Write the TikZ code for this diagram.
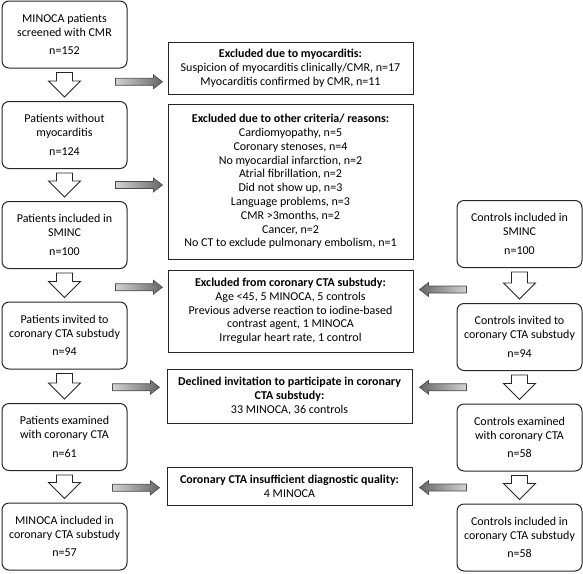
\documentclass[tikz,border=0pt]{standalone}
\usepackage{fontspec}
\setmainfont{Carlito}
\usetikzlibrary{calc}
\newcommand\hollowdown[2]{%
  \draw[hollow] let \p1=($(#1.south)+(0,4)$), \p2=($(#2.north)+(0,-4)$) in
    (\x1-8pt,\y1) -- (\x1+8pt,\y1) -- (\x1+8pt,\y2+16pt) -- (\x1+16pt,\y2+16pt)
    -- (\x1,\y2) -- (\x1-16pt,\y2+16pt) -- (\x1-8pt,\y2+16pt) -- cycle;}
\newcommand\greyright[2]{%
  \draw[greyarrow, left color=gray!35, right color=black!60] let \p1=(#1), \p2=(#2) in
    (\x1,\y1+3.5pt) -- (\x2-9pt,\y1+3.5pt) -- (\x2-9pt,\y1+7pt) -- (\x2,\y1)
    -- (\x2-9pt,\y1-7pt) -- (\x2-9pt,\y1-3.5pt) -- (\x1,\y1-3.5pt) -- cycle;}
\newcommand\greyleft[2]{%
  \draw[greyarrow, right color=gray!35, left color=black!60] let \p1=(#1), \p2=(#2) in
    (\x1,\y1+3.5pt) -- (\x2+9pt,\y1+3.5pt) -- (\x2+9pt,\y1+7pt) -- (\x2,\y1)
    -- (\x2+9pt,\y1-7pt) -- (\x2+9pt,\y1-3.5pt) -- (\x1,\y1-3.5pt) -- cycle;}
\begin{document}
\begin{tikzpicture}[x=1pt,y=-1pt,
  box/.style={draw=black!85, line width=1pt, align=center, inner sep=2pt,
    font=\fontsize{12}{13.8}\selectfont},
  lbox/.style={box, rounded corners=7pt, minimum width=125pt, minimum height=67pt},
  mbox/.style={box, minimum width=245pt},
  hollow/.style={draw=black!85, line width=0.9pt, fill=white},
  greyarrow/.style={draw=black!70, line width=0.6pt},
]
\useasboundingbox (0,0) rectangle (583,573);

% left column
\node[lbox] (L1) at (64.5,34.5) {MINOCA patients\\screened with CMR\\[5pt]n=152};
\node[lbox] (L2) at (64.5,135) {Patients without\\myocarditis\\[5pt]n=124};
\node[lbox] (L3) at (64.5,235) {Patients included in\\SMINC\\[5pt]n=100};
\node[lbox] (L4) at (64.5,335.5) {Patients invited to\\coronary CTA substudy\\[5pt]n=94};
\node[lbox] (L5) at (64.5,437) {Patients examined\\with coronary CTA\\[5pt]n=61};
\node[lbox] (L6) at (64.5,536.5) {MINOCA included in\\coronary CTA substudy\\[5pt]n=57};

% right column
\node[lbox] (R1) at (519.5,234) {Controls included in\\SMINC\\[5pt]n=100};
\node[lbox] (R2) at (519.5,337) {Controls invited to\\coronary CTA substudy\\[5pt]n=94};
\node[lbox] (R3) at (519.5,437.5) {Controls examined\\with coronary CTA\\[5pt]n=58};
\node[lbox] (R4) at (519.5,537.5) {Controls included in\\coronary CTA substudy\\[5pt]n=58};

% middle column
\node[mbox, minimum height=52pt] (M1) at (290.5,68)
  {\textbf{Excluded due to myocarditis:}\\Suspicion of myocarditis clinically/CMR, n=17\\Myocarditis confirmed by CMR, n=11};
\node[mbox, minimum height=155pt] (M2) at (290.5,181.5)
  {\textbf{Excluded due to other criteria/ reasons:}\\Cardiomyopathy, n=5\\Coronary stenoses, n=4\\No myocardial infarction, n=2\\Atrial fibrillation, n=2\\Did not show up, n=3\\Language problems, n=3\\CMR >3months, n=2\\Cancer, n=2\\No CT to exclude pulmonary embolism, n=1};
\node[mbox, minimum height=82pt] (M3) at (290.5,311)
  {\textbf{Excluded from coronary CTA substudy:}\\Age <45, 5 MINOCA, 5 controls\\Previous adverse reaction to iodine-based\\contrast agent, 1 MINOCA\\Irregular heart rate, 1 control};
\node[mbox, minimum height=54pt] (M4) at (289.5,396)
  {\textbf{Declined invitation to participate in coronary}\\\textbf{CTA substudy:}\\33 MINOCA, 36 controls};
\node[mbox, minimum height=38pt] (M5) at (289.5,486)
  {\textbf{Coronary CTA insufficient diagnostic quality:}\\4 MINOCA};

% hollow down arrows
\hollowdown{L1}{L2}
\hollowdown{L2}{L3}
\hollowdown{L3}{L4}
\hollowdown{L4}{L5}
\hollowdown{L5}{L6}
\hollowdown{R1}{R2}
\hollowdown{R2}{R3}
\hollowdown{R3}{R4}

% grey arrows, left to middle
\coordinate (a1s) at ($(L1.south east)!0.5!(L2.north east)+(-12,-3)$);
\coordinate (a1e) at ($(M1.west |- a1s)+(-5,0)$);
\coordinate (a2s) at ($(L2.south east)!0.5!(L3.north east)+(-12,0)$);
\coordinate (a2e) at ($(M2.west |- a2s)+(-5,0)$);
\coordinate (a3s) at ($(L3.south east)!0.5!(L4.north east)+(-12,2)$);
\coordinate (a3e) at ($(M3.west |- a3s)+(-5,0)$);
\coordinate (a4s) at ($(L4.south east)!0.5!(L5.north east)+(-15,1)$);
\coordinate (a4e) at ($(M4.west |- a4s)+(-7,0)$);
\coordinate (a5s) at ($(L5.south east)!0.5!(L6.north east)+(-15,1)$);
\coordinate (a5e) at ($(M5.west |- a5s)+(-7,0)$);
\greyright{a1s}{a1e}
\greyright{a2s}{a2e}
\greyright{a3s}{a3e}
\greyright{a4s}{a4e}
\greyright{a5s}{a5e}

% grey arrows, right to middle
\coordinate (b1s) at ($(R1.south west)!0.5!(R2.north west)+(10,4)$);
\coordinate (b1e) at ($(M3.east |- b1s)+(6,0)$);
\coordinate (b2s) at ($(R2.south west)!0.5!(R3.north west)+(10,0)$);
\coordinate (b2e) at ($(M4.east |- b2s)+(7,0)$);
\coordinate (b3s) at ($(R3.south west)!0.5!(R4.north west)+(10,0)$);
\coordinate (b3e) at ($(M5.east |- b3s)+(7,0)$);
\greyleft{b1s}{b1e}
\greyleft{b2s}{b2e}
\greyleft{b3s}{b3e}
\end{tikzpicture}
\end{document}
